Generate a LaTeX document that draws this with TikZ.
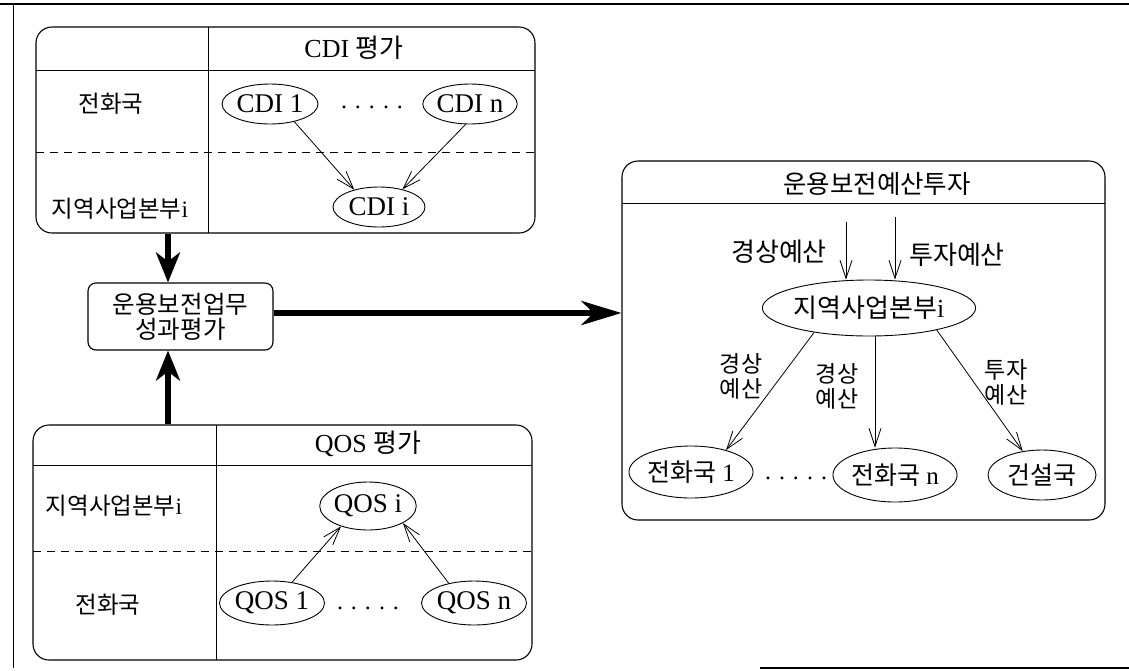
\documentclass[tikz,border=0pt]{standalone}
\usepackage{fontspec}
\setmainfont{Liberation Serif}
\newfontfamily\kr{Noto Sans CJK KR}
\usetikzlibrary{shapes.geometric,arrows.meta}

\begin{document}
\begin{tikzpicture}[x=1pt,y=-1pt,>={Straight Barb[length=18pt,width=12pt]},
  panel/.style={draw,line width=1.1pt,rounded corners=16pt,inner sep=0pt},
  evt/.style={draw,ellipse,line width=0.9pt,inner sep=0pt,
              font=\fontsize{27}{30}\selectfont},
  lbl/.style={font=\fontsize{23.5}{26}\selectfont\kr},
  blbl/.style={font=\fontsize{23}{25}\selectfont\kr,align=center},
  flow/.style={->,line width=0.8pt},
  bigflow/.style={-{Stealth[length=30pt,width=24pt,inset=9pt]},line width=6pt}]

  \useasboundingbox (0,0) rectangle (1129,670);

  % rahmen
  \draw[line width=1.2pt] (0,4)--(1129,4);
  \draw[line width=1pt] (13,4)--(13,668);
  \draw[line width=1.2pt] (760,668)--(1129,668);

  \begin{scope}   % CDI 평가

    \def\Ax{36};  \def\Bx{535};
    \def\Ay{27};  \def\By{233};
    \def\Dx{208};
    \node[panel,minimum width=499pt,minimum height=206pt] (cdibox)
         at ({(\Ax+\Bx)/2},{(\Ay+\By)/2}) {};
    \draw[line width=0.9pt] (\Dx,\Ay)--(\Dx,\By);
    \draw[line width=0.9pt] (\Ax,70)--(\Bx,70);
    \draw[dash pattern=on 8pt off 6pt] (\Ax,152)--(\Bx,152);

    \node (cdititle) at (354,48) {\fontsize{26}{28}\selectfont CDI {\kr 평가}};
    \node[lbl] (cdiup)  at (111,104) {전화국};
    \node[lbl] (cdidown) at (120,209) {지역사업본부\rmfamily i};

    \node[evt,minimum width=96pt,minimum height=40pt] (cdi1) at (270,104) {CDI 1};
    \node (cdidots) at (372,107) {\fontsize{24}{24}\selectfont . . . . .};
    \node[evt,minimum width=86pt,minimum height=40pt] (cdin) at (470,104) {CDI n};
    \node[evt,minimum width=92pt,minimum height=40pt] (cdii) at (379,207) {CDI i};

    \draw[flow] (cdi1.-36)--(cdii.145);
    \draw[flow] (cdin.-102)--(cdii.37);

  \end{scope}

  \begin{scope}   % QOS 평가

    \def\Ax{33};  \def\Bx{532};
    \def\Ay{425}; \def\By{660};
    \def\Dx{216};
    \node[panel,minimum width=499pt,minimum height=235pt] (qosbox)
         at ({(\Ax+\Bx)/2},{(\Ay+\By)/2}) {};
    \draw[line width=0.9pt] (\Dx,\Ay)--(\Dx,\By);
    \draw[line width=0.9pt] (\Ax,465)--(\Bx,465);
    \draw[dash pattern=on 8pt off 6pt] (\Ax,551)--(\Bx,551);

    \node (qostitle) at (368,444) {\fontsize{26}{28}\selectfont QOS {\kr 평가}};
    \node[lbl] (qosup)   at (114,506) {지역사업본부\rmfamily i};
    \node[lbl] (qosdown) at (108,605) {전화국};

    \node[evt,minimum width=92pt,minimum height=48pt] (qosi) at (368,506) {QOS i};
    \node[evt,minimum width=88pt,minimum height=44pt] (qos1) at (272,603) {QOS 1};
    \node (qosdots) at (368,608) {\fontsize{24}{24}\selectfont . . . . .};
    \node[evt,minimum width=90pt,minimum height=44pt] (qosn) at (474,603) {QOS n};

    \draw[flow] (qos1.46)--(qosi.217);
    \draw[flow] (qosn.142)--(qosi.-26);

  \end{scope}

  % 성과평가
  \node[draw,rounded corners=8pt,line width=1.1pt,minimum width=185pt,
        minimum height=67pt,align=center,
        font=\fontsize{24.5}{25}\selectfont\kr] (eval) at (180.5,316.5)
        {운용보전업무\\성과평가};

  \coordinate (trunk) at (168,0);
  \draw[bigflow] (cdibox.south -| trunk)--(eval.north -| trunk);
  \draw[bigflow] (qosbox.north -| trunk)--(eval.south -| trunk);

  \begin{scope}   % 운용보전예산투자

    \def\Ax{622}; \def\Bx{1105};
    \def\Ay{161}; \def\By{520};
    \node[panel,minimum width=483pt,minimum height=359pt] (budbox)
         at ({(\Ax+\Bx)/2},{(\Ay+\By)/2}) {};
    \draw[line width=0.9pt] (\Ax,203)--(\Bx,203);
    \node[font=\fontsize{25.5}{26}\selectfont\kr] (budtitle) at (877,184)
         {운용보전예산투자};

    \node[evt,minimum width=192pt,minimum height=56pt,
          font=\fontsize{26}{28}\selectfont\kr] (hq) at (869,308)
          {지역사업본부\rmfamily i};

    \coordinate (in1) at (846,222);
    \coordinate (in2) at (895,217);
    \draw[flow] (in1)--(hq.north -| in1);
    \draw[flow] (in2)--(hq.north -| in2);
    \node[font=\fontsize{26}{26}\selectfont\kr] (opin)  at (779,252) {경상예산};
    \node[font=\fontsize{26}{26}\selectfont\kr] (invin) at (957,255) {투자예산};

    \node[evt,minimum width=110pt,minimum height=52pt,
          font=\fontsize{25}{28}\selectfont] (tel1) at (691,472)
          {{\kr 전화국} 1};
    \node (teldots) at (796,478) {\fontsize{24}{24}\selectfont . . . . .};
    \node[evt,minimum width=112pt,minimum height=54pt,
          font=\fontsize{25}{28}\selectfont] (teln) at (895,475)
          {{\kr 전화국} n};
    \node[evt,minimum width=108pt,minimum height=50pt,
          font=\fontsize{25}{28}\selectfont\kr] (cons) at (1042,475)
          {건설국};

    \coordinate (mid) at (875,0);
    \draw[flow] (hq.-156)--(tel1.32);
    \draw[flow] (hq.south -| mid)--(teln.north -| mid);
    \draw[flow] (hq.-18)--(cons.129);

    \node[blbl] (op1) at (741,376) {경상\\예산};
    \node[blbl] (op2) at (837,386) {경상\\예산};
    \node[blbl] (inv) at (1006,382) {투자\\예산};

  \end{scope}

  \draw[bigflow,-{Stealth[length=40pt,width=24pt,inset=12pt]}]
       (eval.east |- 0,313)--(budbox.west |- 0,313);

\end{tikzpicture}
\end{document}
